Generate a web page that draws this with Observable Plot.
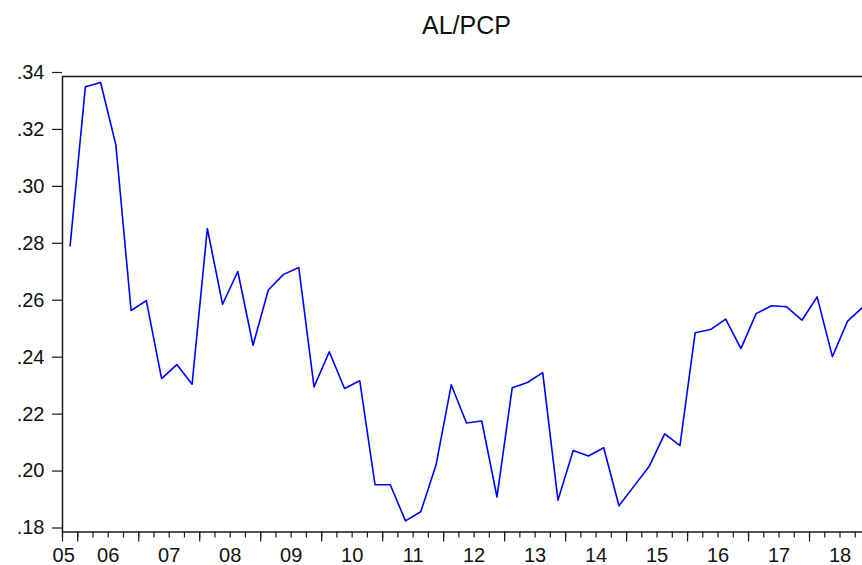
<!DOCTYPE html>
<html>
<head>
<meta charset="utf-8">
<script src="https://cdn.jsdelivr.net/npm/d3@7"></script>
<script src="https://cdn.jsdelivr.net/npm/@observablehq/plot@0.6"></script>
<style>
  html, body { margin: 0; padding: 0; background: white; overflow: hidden; }
  #chart svg { max-width: none !important; }
</style>
</head>
<body>
<div id="chart"></div>
<script>
// Quarterly series AL/PCP, first observation 2005Q4
const title = "AL/PCP";
const startYear = 2005;
const startQuarter = 4;
const values = [
  0.2805, 0.3364, 0.3379, 0.3160, 0.2578, 0.2613, 0.2339, 0.2388,
  0.2319, 0.2866, 0.2600, 0.2715, 0.2456, 0.2650, 0.2705, 0.2729,
  0.2310, 0.2433, 0.2304, 0.2331, 0.1966, 0.1966, 0.1839, 0.1871,
  0.2035, 0.2317, 0.2183, 0.2190, 0.1923, 0.2307, 0.2325, 0.2360,
  0.1912, 0.2086, 0.2067, 0.2096, 0.1892, 0.1962, 0.2032, 0.2145,
  0.2103, 0.2500, 0.2511, 0.2548, 0.2444, 0.2567, 0.2595, 0.2591,
  0.2544, 0.2626, 0.2416, 0.2541, 0.2590
];
const yearLabels = ["05","06","07","08","09","10","11","12","13","14","15","16","17","18"];
const yTicks = [0.18, 0.20, 0.22, 0.24, 0.26, 0.28, 0.30, 0.32, 0.34];

const t0 = startYear + (startQuarter - 1) / 4;           // start of first quarter
const t1 = t0 + values.length / 4;                        // end of last quarter
const data = values.map((v, i) => ({t: t0 + i / 4 + 0.125, v}));
const quarterTicks = d3.range(0, values.length + 1).map(i => t0 + i / 4);
const yearTicks = [t0, ...d3.range(Math.ceil(t0), Math.floor(t1) + 1)];
const labelPos = yearLabels.map((s, i) => Math.max(startYear + i + 0.5, t0 + 0.02));

const fmt = d => d3.format(".2f")(d).replace(/^0/, "");
const ink = "#1a1a1a";

const chart = Plot.plot({
  width: 871,
  height: 565,
  marginLeft: 62,
  marginRight: 1,
  marginTop: 76,
  marginBottom: 33.5,
  style: {fontFamily: "'Liberation Sans', Arial, sans-serif", fontSize: "20px", color: "#111", background: "white", maxWidth: "none"},
  x: {domain: [t0, t1]},
  y: {domain: [0.18, 0.34]},
  marks: [
    Plot.frame({stroke: ink, strokeWidth: 1.5}),
    Plot.axisY({ticks: yTicks, tickFormat: fmt, tickSize: 10, tickPadding: 8, dy: -4, stroke: ink, strokeWidth: 1.2, fontSize: 20, label: null}),
    Plot.axisX({ticks: quarterTicks, tickSize: 6, tickFormat: () => "", stroke: ink, strokeWidth: 1.2, label: null}),
    Plot.axisX({ticks: yearTicks, tickSize: 10, tickFormat: () => "", stroke: ink, strokeWidth: 1.2, label: null}),
    Plot.axisX({ticks: labelPos, tickSize: 0, tickPadding: 16, tickFormat: (d, i) => yearLabels[i], fontSize: 20, label: null}),
    Plot.line(data, {x: "t", y: "v", stroke: "#0000ff", strokeWidth: 1.6}),
    Plot.text([title], {frameAnchor: "top", lineAnchor: "middle", dy: -51, fontSize: 25, fill: "#111"})
  ]
});
document.getElementById("chart").appendChild(chart);
</script>
</body>
</html>
